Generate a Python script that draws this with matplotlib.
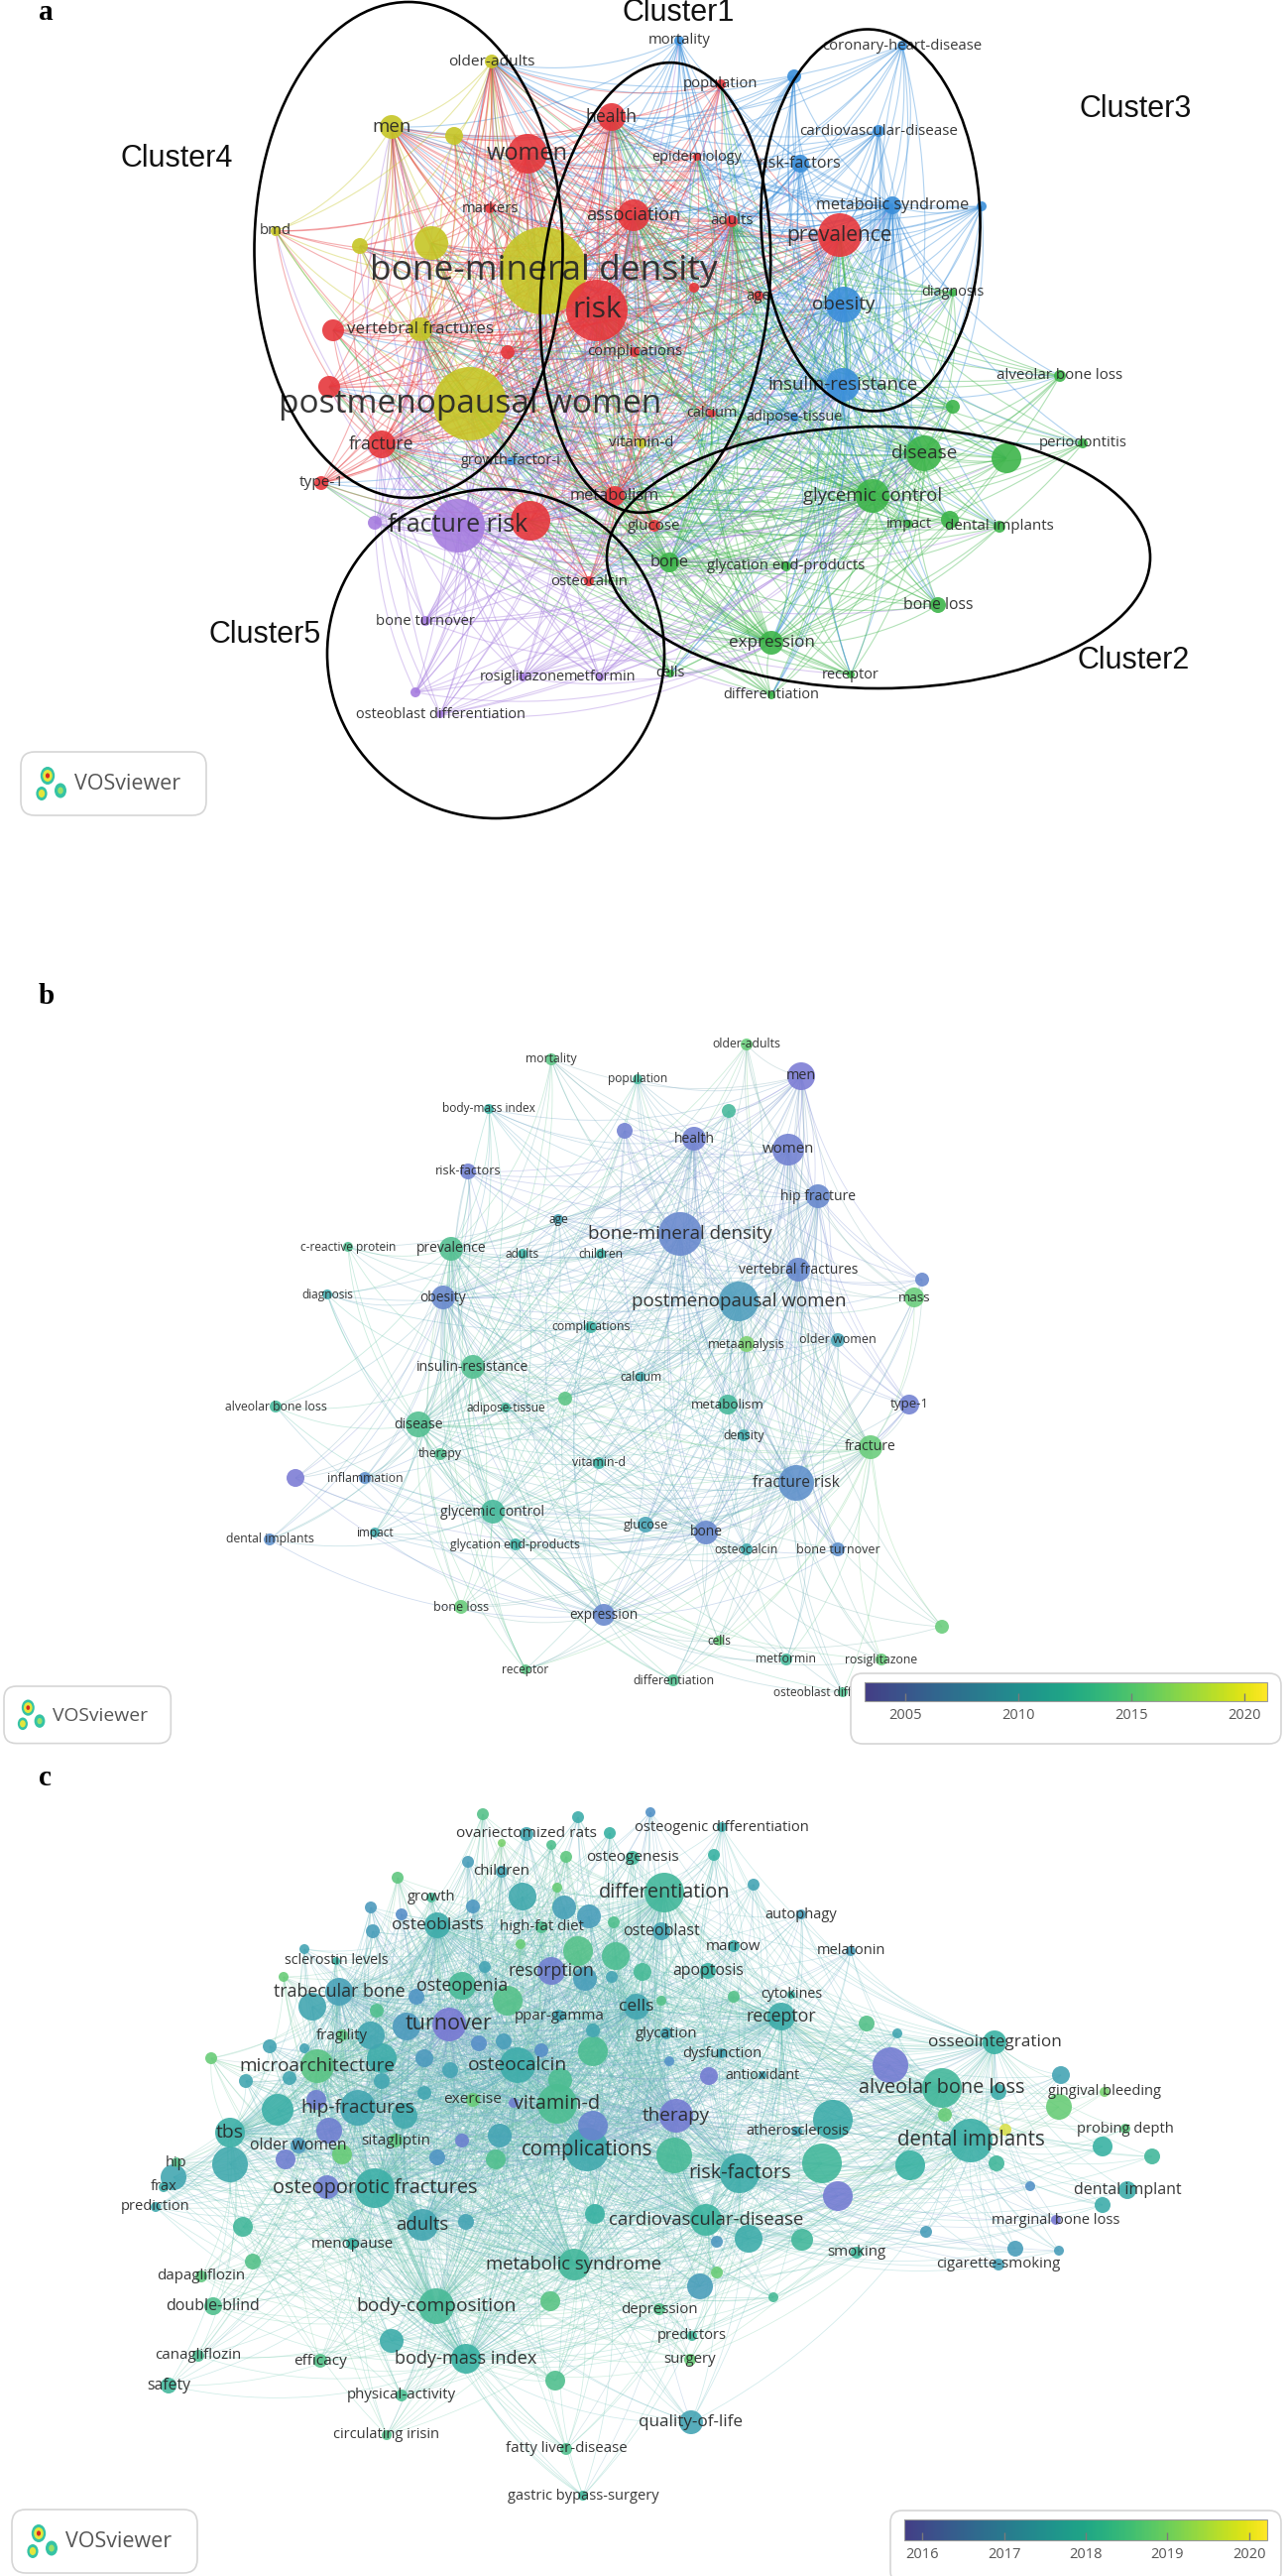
import numpy as np
import matplotlib
matplotlib.use("Agg")
import matplotlib.pyplot as plt
from matplotlib.collections import LineCollection
from matplotlib.patches import Ellipse, FancyBboxPatch
from matplotlib.colors import LinearSegmentedColormap, Normalize, to_rgba
from matplotlib.cm import ScalarMappable

W, H = 1299, 2597

# ---------------- panel a : cluster map ----------------
A_LABELS = ["bone-mineral density", "postmenopausal women", "risk", "women", "men", "older-adults", "health", "markers",
            "bmd", "", "", "", "vertebral fractures", "", "", "", "fracture", "growth-factor-i", "type-1", "metabolism",
            "mortality", "coronary-heart-disease", "", "population", "cardiovascular-disease", "epidemiology",
            "risk-factors", "association", "adults", "metabolic syndrome", "", "prevalence", "", "age", "obesity",
            "diagnosis", "complications", "insulin-resistance", "alveolar bone loss", "", "calcium", "adipose-tissue",
            "vitamin-d", "disease", "", "periodontitis", "glycemic control", "fracture risk", "", "", "glucose", "bone",
            "osteocalcin", "glycation end-products", "impact", "dental implants", "", "bone loss", "expression",
            "receptor", "cells", "differentiation", "bone turnover", "", "rosiglitazone", "metformin",
            "osteoblast differentiation"]
A_X = [548, 474, 602, 532, 395, 496, 617, 494, 278, 458, 435, 363, 424, 336, 512, 332, 385, 515, 324, 620,
       685, 910, 801, 727, 886, 703, 807, 639, 738, 900, 990, 847, 700, 765, 851, 961, 640, 850, 1069, 961,
       718, 801, 647, 932, 1015, 1092, 880, 462, 378, 535, 660, 675, 594, 793, 917, 1008, 958, 946, 778, 858,
       676, 778, 429, 419, 527, 605, 444]
A_Y = [273, 407, 313, 155, 128, 62, 118, 210, 233, 137, 245, 248, 332, 333, 355, 390, 448, 465, 487, 500,
       41, 46, 77, 85, 132, 158, 165, 217, 223, 207, 208, 237, 290, 298, 307, 295, 355, 388, 379, 410,
       417, 421, 447, 457, 462, 447, 500, 530, 527, 525, 530, 567, 586, 571, 528, 531, 524, 610, 648, 680,
       679, 701, 626, 698, 683, 683, 720]
A_WEIGHT = [44, 37, 31, 20, 12, 7, 14, 5, 5, 9, 17, 8, 12, 11, 7, 11, 14, 4, 7, 10,
            5, 5, 7, 5, 6, 4, 9, 16, 6, 9, 5, 22, 5, 5, 18, 4, 5, 17, 6, 7,
            4, 4, 5, 18, 15, 5, 17, 27, 7, 20, 6, 10, 5, 5, 4, 6, 9, 8, 12, 4,
            4, 4, 5, 5, 4, 4, 4]
A_CLUSTER = [4, 4, 1, 1, 4, 4, 1, 1, 4, 4, 4, 4, 4, 1, 1, 1, 1, 3, 1, 1,
             3, 3, 3, 1, 3, 1, 3, 1, 1, 3, 3, 1, 1, 1, 3, 2, 1, 3, 2, 2,
             1, 3, 4, 2, 2, 2, 2, 5, 5, 1, 1, 2, 1, 2, 2, 2, 2, 2, 2, 2,
             2, 2, 5, 5, 5, 5, 5]
A_HUBS = ["bone-mineral density", "postmenopausal women", "risk", "women", "men", "older-adults", "association",
          "health", "prevalence", "obesity", "insulin-resistance", "metabolic syndrome", "disease",
          "glycemic control", "fracture risk", "fracture", "vertebral fractures", "metabolism", "expression",
          "bone", "adults"]
CLUSTER_NAMES = ["Cluster1", "Cluster2", "Cluster3", "Cluster4", "Cluster5"]

# ---------------- panel b : overlay map 2005-2020 ----------------
B_LABELS = ["mortality", "older-adults", "men", "population", "body-mass index", "health", "women", "risk-factors",
            "hip fracture", "age", "bone-mineral density", "c-reactive protein", "prevalence", "adults", "children",
            "vertebral fractures", "mass", "diagnosis", "obesity", "postmenopausal women", "complications",
            "older women", "metaanalysis", "insulin-resistance", "calcium", "alveolar bone loss", "adipose-tissue",
            "type-1", "metabolism", "disease", "density", "therapy", "fracture", "vitamin-d", "inflammation", "",
            "glycemic control", "fracture risk", "glucose", "bone", "dental implants", "impact",
            "glycation end-products", "osteocalcin", "bone turnover", "bone loss", "expression", "cells", "receptor",
            "metformin", "rosiglitazone", "differentiation", "osteoblast differentiation", "", "", "", "", ""]
B_X = [556, 753, 808, 643, 493, 700, 795, 472, 825, 563, 686, 351, 455, 527, 606, 805, 922, 330, 447, 745,
       596, 845, 753, 477, 646, 278, 510, 917, 734, 422, 750, 444, 878, 604, 368, 298, 497, 803, 651, 712,
       272, 378, 520, 753, 845, 465, 609, 725, 530, 793, 889, 679, 850, 950, 630, 735, 570, 930]
B_Y = [1068, 1053, 1085, 1088, 1118, 1148, 1159, 1181, 1206, 1229, 1244, 1257, 1259, 1264, 1264, 1280, 1308,
       1305, 1308, 1312, 1338, 1351, 1355, 1378, 1388, 1418, 1419, 1416, 1416, 1436, 1447, 1466, 1459, 1475,
       1490, 1490, 1524, 1495, 1537, 1545, 1552, 1545, 1557, 1562, 1562, 1620, 1628, 1654, 1683, 1673, 1673,
       1694, 1706, 1640, 1140, 1120, 1410, 1290]
B_WEIGHT = [6, 6, 14, 5, 5, 12, 16, 8, 12, 5, 22, 5, 12, 5, 5, 12, 10, 5, 12, 20,
            6, 7, 8, 12, 5, 6, 5, 10, 10, 13, 6, 6, 12, 6, 6, 9, 12, 18, 8, 12,
            6, 5, 6, 6, 7, 7, 11, 5, 5, 6, 6, 6, 5, 7, 8, 7, 7, 7]
B_YEAR = [2015, 2016, 2004, 2013, 2012, 2005, 2005, 2005, 2006, 2010, 2006, 2014, 2014, 2012, 2012, 2006, 2016,
          2011, 2006, 2009, 2012, 2010, 2017, 2014, 2011, 2013, 2013, 2005, 2013, 2014, 2011, 2014, 2016, 2012,
          2007, 2004, 2013, 2007, 2010, 2006, 2007, 2011, 2012, 2011, 2007, 2016, 2006, 2016, 2015, 2013, 2016,
          2014, 2014, 2016, 2005, 2013, 2015, 2006]
B_HUBS = ["bone-mineral density", "postmenopausal women", "women", "men", "health", "fracture risk",
          "hip fracture", "vertebral fractures", "prevalence", "obesity", "insulin-resistance", "disease",
          "glycemic control", "bone", "expression", "fracture"]
B_TICKS = [2005, 2010, 2015, 2020]
B_RANGE = [2003.2, 2021.0]

# ---------------- panel c : overlay map 2016-2020 ----------------
C_LABELS_TOP = ["", "", "", "ovariectomized rats", "", "", "", "osteogenic differentiation", "", "osteogenesis",
                "", "children", "", "", "", "growth", "", "", "differentiation", "", "", "", "osteoblasts",
                "high-fat diet", "", "", "", "osteoblast", "", "sclerostin levels", "", "", "", "", "resorption",
                "", "", "", "apoptosis"]
C_X_TOP = [487, 583, 656, 531, 506, 556, 615, 728, 571, 638, 472, 506, 401, 562, 527, 435, 477, 569, 670, 374,
           405, 376, 441, 546, 525, 594, 619, 667, 307, 339, 286, 583, 621, 489, 556, 590, 617, 648, 714]
C_Y_TOP = [1829, 1832, 1827, 1849, 1858, 1860, 1848, 1842, 1872, 1873, 1877, 1887, 1893, 1903, 1912, 1913,
           1922, 1923, 1908, 1923, 1930, 1947, 1941, 1943, 1960, 1932, 1938, 1947, 1965, 1977, 1993, 1967,
           1972, 1983, 1987, 1995, 1993, 1988, 1987]
C_W_TOP = [6, 6, 5, 7, 4, 5, 6, 5, 6, 7, 6, 6, 6, 5, 14, 5, 7, 12, 20, 6,
           6, 7, 13, 6, 5, 12, 6, 9, 5, 4, 5, 15, 14, 6, 14, 12, 6, 9, 8]
C_YEAR_TOP = [2018.6, 2017.8, 2016.9, 2017.6, 2019.2, 2018.5, 2018.0, 2017.8, 2018.8, 2018.2,
              2017.3, 2017.5, 2018.8, 2019.0, 2017.7, 2018.3, 2017.1, 2017.4, 2018.2, 2017.2,
              2016.8, 2017.3, 2017.8, 2018.5, 2019.0, 2017.3, 2018.5, 2017.5, 2017.5, 2018.0,
              2019.0, 2018.6, 2018.4, 2017.5, 2016.2, 2017.3, 2017.5, 2018.3, 2018.0]

C_LABELS_MID = ["trabecular bone", "", "osteopenia", "", "", "cells", "", "", "ppar-gamma", "turnover", "",
                "fragility", "", "", "glycation", "", "", "", "", "", "", "", "", "", "microarchitecture",
                "osteocalcin", "", "", "", "", "", "", "", "", "hip-fractures", "", "exercise", "", "vitamin-d",
                "therapy", "", "tbs", "", "", "older women", "sitagliptin", "", "", "", "complications", "",
                "hip", "", "", "", ""]
C_X_MID = [342, 315, 466, 420, 512, 642, 667, 380, 564, 453, 410, 345, 374, 598, 672, 508, 483, 272, 307, 546,
           598, 213, 428, 675, 320, 522, 385, 454, 565, 248, 292, 385, 428, 319, 361, 280, 477, 518, 562, 682,
           408, 232, 332, 598, 301, 399, 345, 466, 504, 592, 288, 178, 232, 441, 500, 680]
C_Y_MID = [2008, 2023, 2002, 2013, 2017, 2023, 2017, 2027, 2032, 2041, 2043, 2052, 2052, 2047, 2050, 2058,
           2060, 2063, 2065, 2067, 2068, 2075, 2075, 2078, 2083, 2082, 2075, 2087, 2097, 2098, 2095, 2098,
           2110, 2117, 2125, 2127, 2117, 2120, 2121, 2133, 2133, 2150, 2148, 2143, 2163, 2158, 2172, 2158,
           2153, 2167, 2177, 2180, 2182, 2175, 2177, 2173]
C_W_MID = [14, 14, 14, 8, 15, 13, 5, 7, 6, 17, 14, 6, 14, 7, 6, 8, 8, 7, 5, 7,
           15, 6, 9, 5, 17, 18, 15, 8, 12, 7, 7, 8, 7, 10, 18, 16, 7, 5, 20, 17,
           13, 15, 13, 15, 8, 7, 10, 7, 12, 22, 10, 5, 18, 8, 10, 18]
C_YEAR_MID = [2017.4, 2017.6, 2018.3, 2017.0, 2018.6, 2017.6, 2018.6, 2018.5, 2017.5, 2016.0,
              2017.2, 2018.8, 2017.6, 2017.6, 2017.5, 2017.3, 2016.8, 2017.5, 2017.5, 2016.8,
              2018.4, 2019.0, 2017.2, 2016.9, 2018.7, 2017.8, 2017.8, 2017.5, 2018.4, 2017.6,
              2017.6, 2017.6, 2017.6, 2016.2, 2017.6, 2017.9, 2019.0, 2016.2, 2018.4, 2016.1,
              2017.7, 2017.9, 2016.2, 2016.4, 2017.2, 2018.8, 2019.0, 2016.3, 2017.5, 2017.7,
              2016.2, 2018.6, 2017.7, 2017.0, 2018.5, 2018.3]

C_LABELS_RIGHT = ["", "cytokines", "receptor", "", "", "osseointegration", "dysfunction", "", "antioxidant", "",
                  "alveolar bone loss", "gingival bleeding", "", "", "", "", "atherosclerosis", "dental implants",
                  "probing depth", "", "", "", "", "risk-factors", "", "", "", "", "dental implant", "", "",
                  "marginal bone loss", "", "", "", "smoking", "", "", "", "cigarette-smoking", "", "", ""]
C_X_RIGHT = [740, 798, 788, 874, 905, 1003, 728, 715, 769, 898, 950, 1114, 1068, 1070, 1007, 840, 804, 979, 1135,
             1112, 1162, 1014, 953, 746, 829, 918, 845, 1005, 1137, 1039, 1112, 1065, 755, 809, 723, 864, 934,
             1024, 1068, 1007, 706, 723, 780]
C_Y_RIGHT = [2013, 2011, 2033, 2040, 2050, 2059, 2070, 2093, 2092, 2082, 2105, 2109, 2124, 2092, 2109, 2137,
             2149, 2158, 2146, 2164, 2174, 2147, 2132, 2191, 2181, 2183, 2214, 2181, 2208, 2204, 2223, 2238,
             2257, 2258, 2260, 2271, 2250, 2267, 2269, 2283, 2305, 2291, 2316]
C_W_RIGHT = [6, 4, 14, 8, 5, 12, 5, 9, 4, 18, 20, 5, 13, 9, 8, 20, 5, 22, 5, 10,
             8, 6, 7, 20, 20, 15, 15, 8, 9, 5, 8, 5, 14, 11, 6, 6, 6, 8, 5, 6, 13, 6, 5]
C_YEAR_RIGHT = [2018.6, 2018.0, 2017.8, 2018.6, 2017.6, 2018.0, 2017.5, 2016.1, 2017.5, 2016.1,
                2018.2, 2019.2, 2019.0, 2017.5, 2017.8, 2017.8, 2017.5, 2017.9, 2018.8, 2018.0,
                2018.2, 2020.0, 2019.0, 2017.8, 2018.2, 2018.0, 2016.1, 2018.2, 2017.8, 2016.9,
                2017.8, 2016.0, 2017.8, 2018.2, 2017.1, 2018.2, 2017.3, 2017.3, 2017.3, 2017.4,
                2017.3, 2019.0, 2018.3]

C_LABELS_LOW = ["osteoporotic fractures", "", "frax", "prediction", "", "adults", "menopause", "",
                "cardiovascular-disease", "", "", "metabolic syndrome", "dapagliflozin", "", "double-blind",
                "body-composition", "depression", "", "predictors", "canagliflozin", "efficacy", "body-mass index",
                "", "surgery", "safety", "physical-activity", "", "quality-of-life", "circulating irisin",
                "fatty liver-disease", "gastric bypass-surgery", "marrow", "autophagy", "melatonin", "", ""]
C_X_LOW = [378, 330, 165, 157, 175, 426, 355, 245, 712, 600, 470, 579, 203, 255, 215, 440, 665, 555, 698, 200,
           323, 470, 395, 696, 170, 405, 560, 697, 390, 571, 588, 740, 808, 858, 720, 760]
C_Y_LOW = [2206, 2205, 2205, 2225, 2195, 2243, 2262, 2245, 2238, 2232, 2240, 2283, 2295, 2280, 2325, 2325,
           2328, 2320, 2355, 2375, 2380, 2378, 2360, 2379, 2405, 2415, 2400, 2442, 2455, 2469, 2516, 1962,
           1930, 1967, 1870, 1900]
C_W_LOW = [20, 12, 5, 5, 13, 16, 6, 10, 16, 10, 8, 16, 6, 8, 9, 18, 6, 10, 5, 6,
           7, 15, 12, 6, 8, 6, 10, 12, 5, 6, 5, 6, 5, 5, 6, 6]
C_YEAR_LOW = [2017.9, 2016.2, 2017.8, 2017.7, 2017.6, 2017.6, 2018.0, 2018.2, 2018.1, 2018.0,
              2017.5, 2018.2, 2018.8, 2018.6, 2018.5, 2018.3, 2018.6, 2018.7, 2018.2, 2018.4,
              2018.6, 2018.0, 2017.8, 2019.0, 2018.2, 2018.4, 2018.5, 2017.5, 2018.6, 2018.5,
              2018.2, 2017.8, 2017.3, 2017.3, 2018.0, 2017.5]

C_LABELS = C_LABELS_TOP + C_LABELS_MID + C_LABELS_RIGHT + C_LABELS_LOW
C_X = C_X_TOP + C_X_MID + C_X_RIGHT + C_X_LOW
C_Y = C_Y_TOP + C_Y_MID + C_Y_RIGHT + C_Y_LOW
C_WEIGHT = C_W_TOP + C_W_MID + C_W_RIGHT + C_W_LOW
C_YEAR = C_YEAR_TOP + C_YEAR_MID + C_YEAR_RIGHT + C_YEAR_LOW
C_HUBS = ["complications", "turnover", "vitamin-d", "osteocalcin", "differentiation", "dental implants",
          "alveolar bone loss", "risk-factors", "osteoporotic fractures", "metabolic syndrome", "body-composition",
          "microarchitecture", "cardiovascular-disease", "receptor", "therapy", "osseointegration", "adults",
          "hip-fractures", "osteoblasts", "trabecular bone", "body-mass index", "tbs", "cells"]
C_TICKS = [2016, 2017, 2018, 2019, 2020]
C_RANGE = [2015.78, 2020.22]

# ---------------- styles ----------------
LABEL_FONT = "Open Sans"
TEXT_COL = "#262626"
CLUSTER_COLORS = {1: "#e6373c", 2: "#3db54a", 3: "#3b8fda", 4: "#c6c626", 5: "#a67ddf"}
EDGE_PRIORITY = {5: 5, 3: 4, 2: 3, 1: 2, 4: 1}
CMAP = LinearSegmentedColormap.from_list("vos", plt.get_cmap("viridis")(np.linspace(0.18, 1.0, 256)))
NODE_CMAP = LinearSegmentedColormap.from_list("vosnode", ["#7a6cd4", "#4b8cc4", "#2fae9f", "#66cc6c", "#f4e43c"])
A_FS = {"bone-mineral density": 25.5, "postmenopausal women": 24, "risk": 21.5, "women": 17,
        "fracture risk": 18, "prevalence": 15, "men": 13.5}
B_FS = {"bone-mineral density": 13.5, "postmenopausal women": 13.5}
C_FS = {"turnover": 15.5, "tbs": 14}


def lighten(c, f):
    r, g, b = to_rgba(c)[:3]
    return (1 - (1 - r) * (1 - f), 1 - (1 - g) * (1 - f), 1 - (1 - b) * (1 - f), 1.0)


def hub_pairs(labels, xs, ys, hubs, maxd):
    idx = {l: i for i, l in enumerate(labels) if l}
    pairs = set()
    for h in hubs:
        j = idx[h]
        for i in range(len(labels)):
            if i != j and np.hypot(xs[i] - xs[j], ys[i] - ys[j]) <= maxd:
                pairs.add((min(i, j), max(i, j)))
    return sorted(pairs)


def curve(p0, p2, bend, n=22):
    p0 = np.asarray(p0, float)
    p2 = np.asarray(p2, float)
    if p0[0] > p2[0]:
        p0, p2 = p2, p0
    d = p2 - p0
    L = np.hypot(*d)
    nrm = np.array([-d[1], d[0]]) / L
    p1 = (p0 + p2) / 2 + nrm * L * bend
    t = np.linspace(0, 1, n)[:, None]
    return (1 - t) ** 2 * p0 + 2 * (1 - t) * t * p1 + t ** 2 * p2


def draw_network(ax, labels, xs, ys, ws, node_cols, pairs, edge_cols, lw, alpha, fs_fn, bend=0.16):
    segs = [curve((xs[i], ys[i]), (xs[j], ys[j]), bend) for i, j in pairs]
    ax.add_collection(LineCollection(segs, colors=edge_cols, linewidths=lw, alpha=alpha, zorder=1))
    xs = np.asarray(xs, float)
    ys = np.asarray(ys, float)
    ws = np.asarray(ws, float)
    order = np.argsort(-ws)
    ax.scatter(xs[order], ys[order], s=(1.44 * ws[order]) ** 2, c=[node_cols[k] for k in order],
               alpha=0.9, linewidths=0, zorder=3)
    for lab, x, y, w in zip(labels, xs, ys, ws):
        if lab:
            ax.text(x, y, lab, fontsize=fs_fn(lab, w), ha="center", va="center", family=LABEL_FONT,
                    color=TEXT_COL, alpha=0.92, zorder=4)


def badge(ax, x0, y0, s=1.0):
    ax.add_patch(FancyBboxPatch((x0, y0), 187 * s, 64 * s, boxstyle="round,pad=0,rounding_size=%g" % (14 * s),
                                fc="white", ec="#d6d6d6", lw=1.2, zorder=8))
    for dx, dy, r, col in [(27, 24, 9, "#35c3a5"), (27, 24, 6, "#e4e63c"), (27, 24, 2.6, "#d9281f"),
                           (21, 42, 7, "#35c3a5"), (21, 42, 4, "#e4e63c"),
                           (40, 39, 7.5, "#35c3a5"), (40, 39, 3.5, "#9be06a")]:
        ax.add_patch(Ellipse((x0 + dx * s, y0 + dy * s), 1.6 * r * s, 2 * r * s, fc=col, ec="none", zorder=9))
    ax.text(x0 + 54 * s, y0 + 33 * s, "VOSviewer", fontsize=15.5 * s, family=LABEL_FONT, color="#555555",
            ha="left", va="center", zorder=9)


def colorbar(fig, ax, x0, x1, y0, y1, vrange, ticks):
    ax.add_patch(FancyBboxPatch((x0 - 14, y0 - 9), (x1 - x0) + 28, (y1 - y0) + 52,
                                boxstyle="round,pad=0,rounding_size=12", fc="white", ec="#d6d6d6",
                                lw=1.2, zorder=8))
    cax = fig.add_axes([x0 / W, 1 - y1 / H, (x1 - x0) / W, (y1 - y0) / H])
    cb = fig.colorbar(ScalarMappable(Normalize(*vrange), CMAP), cax=cax, orientation="horizontal", ticks=ticks)
    cb.outline.set_edgecolor("#9a9a9a")
    cb.outline.set_linewidth(0.8)
    cax.tick_params(direction="in", length=6, width=1, color="#7a7a7a", labelsize=10.5,
                    labelcolor="#555555", pad=5)
    for t in cax.get_xticklabels():
        t.set_fontfamily(LABEL_FONT)


fig = plt.figure(figsize=(W / 100, H / 100), dpi=100)
ax = fig.add_axes([0, 0, 1, 1])
ax.set_xlim(0, W)
ax.set_ylim(H, 0)
ax.axis("off")

# ----- panel a -----
a_pairs = hub_pairs(A_LABELS, A_X, A_Y, A_HUBS, 560)
a_edge_cols = []
for i, j in a_pairs:
    ci, cj = A_CLUSTER[i], A_CLUSTER[j]
    c = ci if EDGE_PRIORITY[ci] >= EDGE_PRIORITY[cj] else cj
    a_edge_cols.append(CLUSTER_COLORS[c])
a_node_cols = [CLUSTER_COLORS[c] for c in A_CLUSTER]
draw_network(ax, A_LABELS, A_X, A_Y, A_WEIGHT, a_node_cols, a_pairs, a_edge_cols, 0.8, 0.4,
             lambda lab, w: A_FS.get(lab, 9.6 + 0.22 * w))

# cluster outlines and names (annotation)
for cx, cy, ew, eh, ang in [(661, 290, 230, 455, 5), (886, 562, 548, 264, 0), (878, 222, 221, 385, -1.3),
                            (412, 252, 311, 500, 0), (500, 659, 340, 332, 0)]:
    ax.add_patch(Ellipse((cx, cy), ew, eh, angle=ang, fill=False, ec="black", lw=1.9, zorder=5))
for name, tx, ty in zip(CLUSTER_NAMES, [684, 1143, 1145, 178, 267], [13, 666, 110, 160, 640]):
    ax.text(tx, ty, name, fontsize=22, family="Liberation Sans", color="#111111", ha="center", va="center",
            zorder=6)
ax.text(39, 20, "a", fontsize=21, family="Liberation Serif", fontweight="bold", ha="left", va="baseline")
badge(ax, 21, 758)

# ----- panel b -----
b_norm = Normalize(*B_RANGE)
b_cols = [NODE_CMAP(b_norm(v)) for v in B_YEAR]
b_pairs = hub_pairs(B_LABELS, B_X, B_Y, B_HUBS, 440)
b_edge_cols = [tuple((np.array(b_cols[i]) + np.array(b_cols[j])) / 2) for i, j in b_pairs]
draw_network(ax, B_LABELS, B_X, B_Y, B_WEIGHT, [lighten(c, 0.08) for c in b_cols], b_pairs,
             [lighten(c, 0.15) for c in b_edge_cols], 0.6, 0.33,
             lambda lab, w: B_FS.get(lab, 7.6 + 0.2 * w))
ax.text(39, 1012, "b", fontsize=21, family="Liberation Serif", fontweight="bold", ha="left", va="baseline")
badge(ax, 4, 1700, 0.9)
colorbar(fig, ax, 872, 1278, 1696, 1715, B_RANGE, B_TICKS)

# ----- panel c -----
c_norm = Normalize(*C_RANGE)
c_cols = [NODE_CMAP(c_norm(v)) for v in C_YEAR]
c_pairs = hub_pairs(C_LABELS, C_X, C_Y, C_HUBS, 420)
c_edge_cols = [tuple((np.array(c_cols[i]) + np.array(c_cols[j])) / 2) for i, j in c_pairs]
draw_network(ax, C_LABELS, C_X, C_Y, C_WEIGHT, [lighten(c, 0.05) for c in c_cols], c_pairs,
             [lighten(c, 0.2) for c in c_edge_cols], 0.55, 0.3,
             lambda lab, w: C_FS.get(lab, 9.3 + 0.25 * w))
ax.text(39, 1800, "c", fontsize=21, family="Liberation Serif", fontweight="bold", ha="left", va="baseline")
badge(ax, 12, 2530)
colorbar(fig, ax, 912, 1278, 2540, 2561, C_RANGE, C_TICKS)

fig.savefig("out.png", dpi=100)
